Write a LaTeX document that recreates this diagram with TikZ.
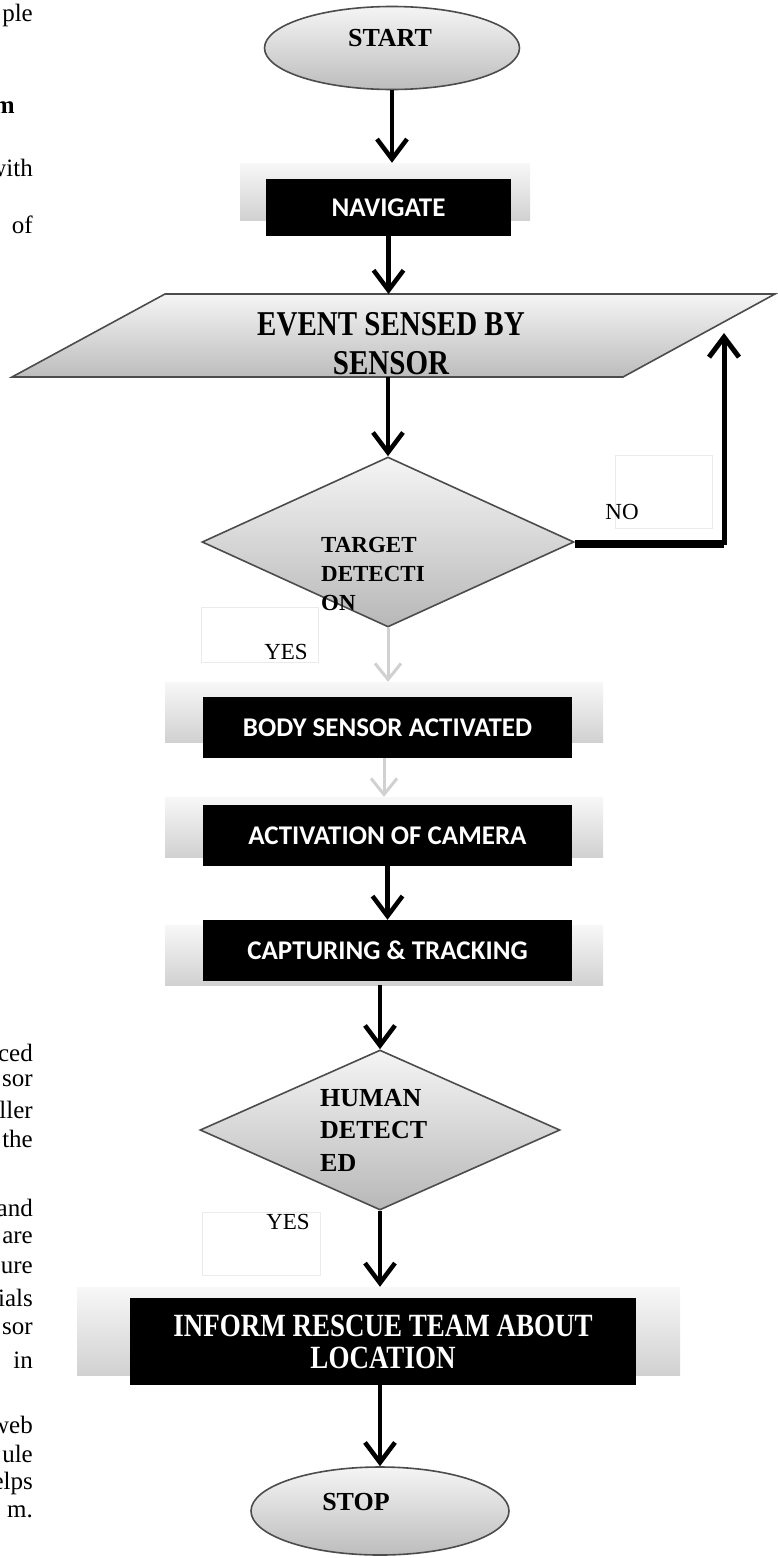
\documentclass[tikz,border=0pt]{standalone}
\usepackage{graphicx}
\usepackage{fontspec}
\setmainfont{Liberation Serif}
\newfontfamily\calfont{Carlito}
\usetikzlibrary{shapes.geometric,arrows.meta}
\tikzset{
  term/.style={ellipse, draw=black!70, line width=1.6pt, top color=black!4, bottom color=black!26, inner sep=0pt},
  dec/.style={diamond, draw=black!70, line width=1.6pt, top color=black!4, bottom color=black!28, inner sep=0pt},
  bar/.style={rectangle, top color=black!3, bottom color=black!18, inner sep=0pt},
  bbox/.style={rectangle, fill=black, text=white, inner sep=0pt, font=\calfont\bfseries\fontsize{27}{32}\selectfont},
  arr/.style={line width=4.5pt, -{Straight Barb[length=20pt,width=30pt]}},
  larr/.style={line width=3pt, draw=black!18, -{Straight Barb[length=16pt,width=26pt]}},
  serifb/.style={inner sep=0pt, font=\bfseries\fontsize{26}{32}\selectfont},
  frag/.style={anchor=east, inner sep=0pt, font=\fontsize{25}{30}\selectfont},
  faint/.style={draw=black!8, line width=0.8pt},
  lbl/.style={font=\fontsize{23}{28}\selectfont, inner sep=0pt}
}
\begin{document}
\begin{tikzpicture}[x=1pt,y=-1pt]
\useasboundingbox (0,0) rectangle (777,1558);

% cut-off text of the page on the left
\node[frag] (f1) at (33,15) {ple};
\node[frag, font=\bfseries\fontsize{25}{30}\selectfont] (f2) at (15,108) {m};
\node[frag] (f3) at (33,168) {with};
\node[frag] (f4) at (33,225) {of};
\node[frag] (f5) at (33,1053) {ced};
\node[frag] (f6) at (33,1081) {sor};
\node[frag] (f7) at (33,1110) {ller};
\node[frag] (f8) at (33,1139) {the};
\node[frag] (f9) at (33,1208) {and};
\node[frag] (f10) at (33,1238) {are};
\node[frag] (f11) at (33,1268) {ure};
\node[frag] (f12) at (33,1298) {ials};
\node[frag] (f13) at (33,1329) {sor};
\node[frag] (f14) at (33,1360) {in};
\node[frag] (f15) at (33,1425) {web};
\node[frag] (f16) at (33,1454) {ule};
\node[frag] (f17) at (33,1483) {elps};
\node[frag] (f18) at (33,1512) {m.};

% START
\node[term, minimum width=255pt, minimum height=83pt] (start) at (392,48) {};
\node[serifb] (starttxt) at (390,38) {START};

% NAVIGATE
\node[bar, minimum width=290pt, minimum height=57pt] (navbar) at (385,191.5) {};
\node[bbox, minimum width=245pt, minimum height=57pt] (nav) at (388.5,207.5) {NAVIGATE};

% EVENT parallelogram
\coordinate (evtop) at (390,294);
\coordinate (evbot) at (390,377);
\path[draw=black!70, line width=1.6pt, top color=black!4, bottom color=black!26]
  (165,294) -- (775,294) -- (623,377) -- (12,377) -- cycle;
\node[inner sep=0pt, align=center, font=\bfseries\fontsize{29}{39}\selectfont] (event) at (391,344)
  {\scalebox{1}[1.2]{EVENT SENSED BY}\\\scalebox{1}[1.2]{SENSOR}};

% TARGET DETECTION
\node[dec, minimum width=372pt, minimum height=170pt] (t1) at (388,542) {};
\node[inner sep=0pt, anchor=west, align=left, font=\bfseries\fontsize{23}{29}\selectfont] (t1txt) at (321,574) {TARGET\\DETECTI\\ON};
\draw[faint] (615,455) rectangle (712,528);
\node[lbl] (no) at (622,512) {NO};
\draw[faint] (201,607) rectangle (318,662);
\node[lbl] (yes1) at (286,652) {YES};

% boxes
\node[bar, minimum width=438pt, minimum height=60pt] (bodybar) at (384,712) {};
\node[bbox, minimum width=369pt, minimum height=61pt] (body) at (387.5,727.5) {BODY SENSOR ACTIVATED};
\node[bar, minimum width=438pt, minimum height=60pt] (actbar) at (384,827) {};
\node[bbox, minimum width=369pt, minimum height=61pt] (act) at (387.5,835.5) {ACTIVATION OF CAMERA};
\node[bar, minimum width=438pt, minimum height=60pt] (capbar) at (384,955) {};
\node[bbox, minimum width=369pt, minimum height=61pt] (cap) at (387.5,950.5) {CAPTURING \& TRACKING};

% HUMAN DETECTED
\node[dec, minimum width=360pt, minimum height=160pt] (h1) at (380,1130) {};
\node[inner sep=0pt, anchor=west, align=left, font=\bfseries\fontsize{26}{32.5}\selectfont] (h1txt) at (320,1130) {HUMAN\\DETECT\\ED};
\draw[faint] (202,1212) rectangle (320,1275);
\node[lbl] (yes2) at (288,1222) {YES};

% INFORM
\node[bar, minimum width=603pt, minimum height=88pt] (infbar) at (378.5,1331) {};
\node[bbox, minimum width=506pt, minimum height=87pt, align=center, font=\bfseries\fontsize{27}{32}\selectfont] (inf) at (383,1341.5)
  {\scalebox{1}[1.2]{INFORM RESCUE TEAM ABOUT}\\\scalebox{1}[1.2]{LOCATION}};

% STOP
\node[term, minimum width=258pt, minimum height=88pt] (stop) at (380,1511) {};
\node[serifb] (stoptxt) at (356,1502) {STOP};

% connectors
\draw[arr] (start.south) -- (start.south |- navbar.north);
\draw[arr] (nav.south) -- (nav.south |- evtop);
\draw[arr] (t1.north |- evbot) -- (t1.north);
\coordinate (noend) at (724,333);
\draw[arr, line width=5pt] (t1.east) -| (noend);
\draw[line width=4pt] ([yshift=-4pt]t1.east) -- ([yshift=-4pt]t1.east -| noend);
\draw[larr] (t1.south) -- (t1.south |- bodybar.north);
\draw[larr] (body.south -| actbar.north) -- (actbar.north);
\draw[arr] (act.south) -- (cap.north);
\draw[arr] (h1.north |- capbar.south) -- (h1.north);
\draw[arr] (h1.south) -- (h1.south |- infbar.north);
\draw[arr] (stop.north |- inf.south) -- (stop.north);
\end{tikzpicture}
\end{document}
